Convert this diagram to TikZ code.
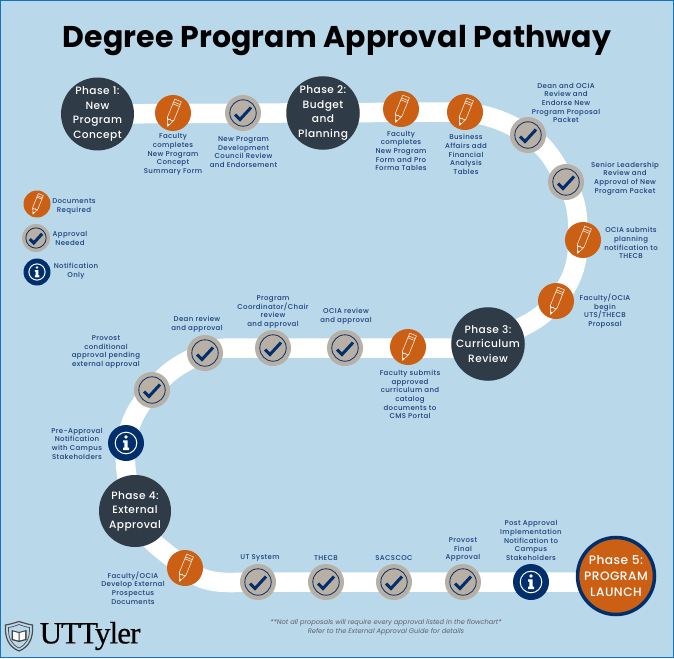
\documentclass[tikz,border=0pt]{standalone}
\usepackage{fontspec}
\setmainfont{Poppins}
\newfontfamily\logofont[FakeBold=0.5]{Liberation Serif}
\newfontfamily\midfont[LetterSpace=4]{Poppins Medium}
\newfontfamily\labelfont[LetterSpace=5]{Poppins Medium}
\usetikzlibrary{positioning, backgrounds}
\definecolor{panelblue}{HTML}{B9D8EA}
\definecolor{edgeblue}{HTML}{1273BE}
\definecolor{navyink}{HTML}{002F6C}
\definecolor{labelink}{HTML}{1A3F7C}
\definecolor{slatedark}{HTML}{2F3B46}
\definecolor{burnt}{HTML}{CB6015}
\definecolor{stone}{HTML}{B8AFA5}

\begin{document}
\begin{tikzpicture}[x=1pt, y=-1pt]
    \tikzset{phase/.style = {circle, fill=slatedark, text=white, align=center, inner sep=0pt,
                             minimum size=72pt, font=\midfont\fontsize{10.6}{14.5}\selectfont},
             docs/.style = {circle, fill=burnt, inner sep=0pt, minimum size=36pt},
             approval/.style = {circle, fill=stone, inner sep=0pt, minimum size=36pt},
             notice/.style = {circle, fill=navyink, inner sep=0pt, minimum size=36pt},
             note/.style = {align=center, inner sep=0pt, text=labelink,
                            font=\labelfont\fontsize{7}{8.7}\selectfont},
             band/.style = {draw=white, line width=19.5pt},
             pencilicon/.pic = {
                 \draw[white, line width=0.5pt, line join=round, rotate=-22]
                     (-3.6,-13.5) -- (3.6,-13.5) -- (3.6,6.5) -- (0,14.5) -- (-3.6,6.5) -- cycle
                     (-3.6,-10.5) -- (3.6,-10.5) (-3.6,-8.5) -- (3.6,-8.5)
                     (-3.6,6.5) -- (-1.2,8) -- (0,6.5) -- (1.2,8) -- (3.6,6.5);
                 \fill[white, rotate=-22] (-1.2,11.8) -- (1.2,11.8) -- (0,14.5) -- cycle;
             },
             checkicon/.pic = {
                 \draw[navyink, line width=0.8pt] (0,0) circle (13.2);
                 \draw[navyink, line width=3pt] (-8,1.5) -- (-3,6.5) -- (8,-5.5);
             },
             infoicon/.pic = {
                 \draw[white, line width=1pt] (0,0) circle (10.8);
                 \fill[white] (0,-6) circle (1.9);
                 \fill[white] (-2.8,-2.6) -- (1.7,-2.6) -- (1.7,4.6) -- (3,4.6) -- (3,7)
                     -- (-3,7) -- (-3,4.6) -- (-1.7,4.6) -- (-1.7,-0.4) -- (-2.8,-0.4) -- cycle;
             }
            }
    \useasboundingbox (0,0) rectangle (674,658);

    \node (title) at (337,41) {\fontsize{30}{32}\selectfont\bfseries\addfontfeature{LetterSpace=0.4}Degree Program Approval Pathway};

    \node (phaseA) [phase] at (97.5,114) {Phase 1:\\New\\Program\\Concept};
    \node (phaseB) [phase] at (323,113) {Phase 2:\\Budget\\and\\Planning};
    \node (phaseC) [phase] at (488,344) {Phase 3:\\Curriculum\\Review};
    \node (phaseD) [phase] at (135,511) {Phase 4:\\External\\Approval};
    \node (launch) [circle, fill=burnt, draw=navyink, line width=3.5pt, text=white, align=center,
                    inner sep=0pt, minimum size=77pt, font=\midfont\fontsize{12.2}{16.3}\selectfont]
                    at (616,576) {Phase 5:\\PROGRAM\\LAUNCH};

    \node (pencilA) [docs] at (173,113) {};
    \node (checkA) [approval] at (243,113) {};
    \node (pencilB) [docs] at (401,109) {};
    \node (pencilC) [docs] at (465,112) {};
    \node (checkB) [approval] at (528,135) {};
    \node (checkC) [approval] at (566,182) {};
    \node (pencilD) [docs] at (583,240) {};
    \node (pencilE) [docs] at (556,301) {};
    \node (pencilF) [docs] at (408,347) {};
    \node (checkD) [approval] at (345,348) {};
    \node (checkE) [approval] at (273,348) {};
    \node (checkF) [approval] at (205,353) {};
    \node (checkG) [approval] at (152,390) {};
    \node (infoA) [notice] at (126,443) {};
    \node (pencilG) [docs] at (185,568) {};
    \node (checkH) [approval] at (258,582) {};
    \node (checkI) [approval] at (326,582) {};
    \node (checkJ) [approval] at (394,582) {};
    \node (checkK) [approval] at (463,582) {};
    \node (infoB) [notice] at (531,582) {};
    \coordinate (bendD) at (578,238);
    \coordinate (bendF) at (230,348);

    \node (keyPencil) [docs, minimum size=27pt] at (37,204) {};
    \node (keyCheck) [approval, minimum size=28pt] at (36,238) {};
    \node (keyInfo) [notice, minimum size=27pt] at (37,272) {};

    \foreach \n in {pencilA, pencilB, pencilC, pencilD, pencilE, pencilF, pencilG}
        \pic at (\n) {pencilicon};
    \foreach \n in {checkA, checkB, checkC, checkD, checkE, checkF, checkG, checkH, checkI, checkJ, checkK}
        \pic at (\n) {checkicon};
    \foreach \n in {infoA, infoB}
        \pic at (\n) {infoicon};
    \pic[scale=0.75] at (keyPencil) {pencilicon};
    \pic[scale=0.77] at (keyCheck) {checkicon};
    \pic[scale=0.75] at (keyInfo) {infoicon};

    \node (notePencilA) [note] at (173,154.5) {Faculty\\completes\\New Program\\Concept\\Summary Form};
    \node (noteCheckA) [note] at (243.5,152) {New Program\\Development\\Council Review\\and Endorsement};
    \node (notePencilB) [note] at (401,151) {Faculty\\completes\\New Program\\Form and Pro\\Forma Tables};
    \node (notePencilC) [note] at (466,154.5) {Business\\Affairs add\\Financial\\Analysis\\Tables};
    \node (noteCheckB) [note] at (566,103) {Dean and OCIA\\Review and\\Endorse New\\Program Proposal\\Packet};
    \node (noteCheckC) [note] at (625,178.5) {Senior Leadership\\Review and\\Approval of New\\Program Packet};
    \node (notePencilD) [note] at (631,243) {OCIA submits\\planning\\notification to\\THECB};
    \node (notePencilE) [note] at (605,311) {Faculty/OCIA\\begin\\UTS/THECB\\Proposal};
    \node (notePencilF) [note] at (410,394.5) {Faculty submits\\approved\\curriculum and\\catalog\\documents to\\CMS Portal};
    \node (noteCheckD) [note] at (346,316) {OCIA review\\and approval};
    \node (noteCheckE) [note] at (273,312) {Program\\Coordinator/Chair\\review\\and approval};
    \node (noteCheckF) [note] at (197,324.5) {Dean review\\and approval};
    \node (noteCheckG) [note] at (106,352) {Provost\\conditional\\approval pending\\external approval};
    \node (noteInfoA) [note] at (77,443.5) {Pre-Approval\\Notification\\with Campus\\Stakeholders};
    \node (notePencilG) [note] at (133,588) {Faculty/OCIA\\Develop External\\Prospectus\\Documents};
    \node (noteCheckH) [note] at (260,558) {UT System};
    \node (noteCheckI) [note] at (326,558) {THECB};
    \node (noteCheckJ) [note] at (394,558) {SACSCOC};
    \node (noteCheckK) [note] at (463,549.5) {Provost\\Final\\Approval};
    \node (noteInfoB) [note] at (531,540.5) {Post Approval\\Implementation\\Notification to\\Campus\\Stakeholders};

    \node (keyPencilText) [note] at (74,206.5) {Documents\\Required};
    \node (keyCheckText) [note] at (70,238.5) {Approval\\Needed};
    \node (keyInfoText) [note] at (76,271.5) {Notification\\Only};

    \node (footnote) [align=center, inner sep=0pt, text=black!62, font=\fontsize{6.7}{9}\selectfont\itshape]
        at (386,627) {**Not all proposals will require every approval listed in the flowchart*\\Refer to the External Approval Guide for details};

    \node (logotype) [inner sep=0pt, anchor=west, font=\fontsize{31}{31}\selectfont\logofont]
        at (39.5,636) {\addfontfeature{LetterSpace=-3}UTTyler};
    \draw[black!70, line width=1.2pt] (5.5,625) .. controls (12,624) and (15,622.5) .. (19,621.5)
        .. controls (23,622.5) and (26,624) .. (32.5,625)
        .. controls (33.5,638) and (29,647) .. (19,651)
        .. controls (9,647) and (4.5,638) .. (5.5,625) -- cycle;
    \draw[black!70, line width=0.7pt] (8.5,627.5) .. controls (13,627) and (16,625.5) .. (19,624.5)
        .. controls (22,625.5) and (25,627) .. (29.5,627.5)
        .. controls (30,638) and (26.5,644.5) .. (19,648)
        .. controls (11.5,644.5) and (8,638) .. (8.5,627.5) -- cycle;
    \fill[black!75] (11.5,630) -- (19,632) -- (26.5,630) -- (26.5,640) -- (19,642) -- (11.5,640) -- cycle;
    \fill[white] (13,631.5) -- (18.5,633) -- (18.5,640.5) -- (13,639) -- cycle
                 (25,631.5) -- (19.5,633) -- (19.5,640.5) -- (25,639) -- cycle;

    \begin{pgfonlayer}{background}
        \draw[fill=panelblue, draw=edgeblue, line width=1pt] (0.5,0.5) rectangle (673.5,657.5);
        \draw[band] (phaseA.center) -- (pencilC.center)
            to[out=-8, in=148] (checkB.center)
            to[out=-32, in=120] (checkC.center)
            to[out=-60, in=90] (bendD)
            to[out=-90, in=50] (pencilE.center)
            to[out=-130, in=30] (phaseC.center);
        \draw[band] (phaseC.center |- checkE.center) -- (bendF)
            to[out=180, in=22] (checkF.center)
            to[out=202, in=50] (checkG.center)
            to[out=230, in=80] (infoA.center)
            to[out=265, in=105] (phaseD.center)
            to[out=-75, in=140] (pencilG.center)
            to[out=-40, in=180] (checkH.center)
            -- (launch.center |- checkH.center);
    \end{pgfonlayer}
\end{tikzpicture}
\end{document}
